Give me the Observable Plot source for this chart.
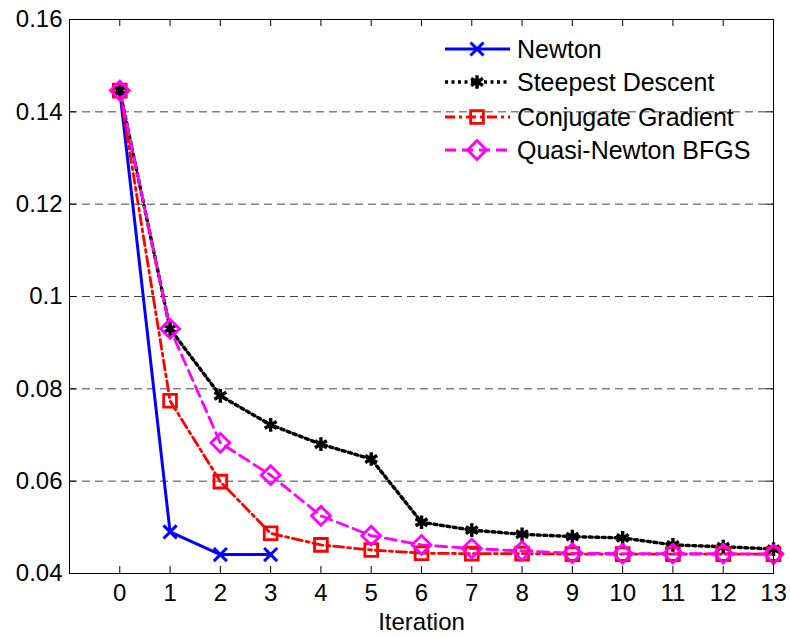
<!DOCTYPE html>
<html>
<head>
<meta charset="utf-8">
<script src="https://cdn.jsdelivr.net/npm/d3@7"></script>
<script src="https://cdn.jsdelivr.net/npm/@observablehq/plot@0.6"></script>
<style>
  html, body { margin: 0; padding: 0; background: #fff; }
  #chart { position: relative; width: 790px; height: 637px; }
  #chart svg { display: block; }
  #legend { position: absolute; left: 0; top: 0; pointer-events: none; }
</style>
</head>
<body>
<div id="chart"></div>
<script>
// ---- data ----
const seriesNames = ["Newton", "Steepest Descent", "Conjugate Gradient", "Quasi-Newton BFGS"];
const newtonIter = [0, 1, 2, 3];
const newtonVals = [0.1446, 0.0490, 0.0441, 0.0441];
const iter = [0, 1, 2, 3, 4, 5, 6, 7, 8, 9, 10, 11, 12, 13];
const steepestVals = [0.1446, 0.0930, 0.0785, 0.0722, 0.0680, 0.0648, 0.0511, 0.0494, 0.0485, 0.0480, 0.0477, 0.0462, 0.0458, 0.0453];
const conjugateVals = [0.1446, 0.0774, 0.0599, 0.0487, 0.0462, 0.0451, 0.0444, 0.0443, 0.0443, 0.0442, 0.0442, 0.0442, 0.0442, 0.0442];
const quasiVals = [0.1446, 0.0930, 0.0683, 0.0613, 0.0525, 0.0482, 0.0462, 0.0454, 0.0449, 0.0444, 0.0443, 0.0443, 0.0443, 0.0442];
const xTicks = [0, 1, 2, 3, 4, 5, 6, 7, 8, 9, 10, 11, 12, 13];
const yTicks = [0.04, 0.06, 0.08, 0.1, 0.12, 0.14, 0.16];
const yTickLabels = ["0.04", "0.06", "0.08", "0.1", "0.12", "0.14", "0.16"];
const gridTicks = [0.06, 0.08, 0.1, 0.12, 0.14];

// ---- styles ----
const styles = [
  {color: "#0000ff", dash: null, symbol: "times", r: 6, sw: 3},
  {color: "#000000", dash: "3,3.5", symbol: "asterisk", r: 6.5, sw: 3.4},
  {color: "#ff0000", dash: "10,4,3,4", symbol: "square", r: 7.2, sw: 2.8},
  {color: "#ff00ff", dash: "11,6", symbol: "diamond2", r: 8.5, sw: 2.8}
];

const table = (xs, ys) => xs.map((x, i) => ({x, y: ys[i]}));
const data = [
  table(newtonIter, newtonVals),
  table(iter, steepestVals),
  table(iter, conjugateVals),
  table(iter, quasiVals)
];

const W = 790, H = 637;
const mL = 69, mR = 17, mT = 19, mB = 64;
const plotW = W - mL - mR, plotH = H - mT - mB;
const FONT = "Liberation Sans, Arial, Helvetica, sans-serif";

const marks = [];
// grid
marks.push(Plot.ruleY(gridTicks, {y: d => d, stroke: "#444", strokeWidth: 1, strokeDasharray: "8,5"}));
// series
data.forEach((d, i) => {
  const s = styles[i];
  marks.push(Plot.line(d, {x: "x", y: "y", stroke: s.color, strokeWidth: s.sw, strokeDasharray: s.dash, strokeLinejoin: "round"}));
});
data.forEach((d, i) => {
  const s = styles[i];
  marks.push(Plot.dot(d, {x: "x", y: "y", symbol: () => s.symbol, r: s.r, stroke: s.color, strokeWidth: s.sw, fill: "none"}));
});
// ticks (inward, all four sides)
marks.push(Plot.tickX(xTicks, {x: d => d, stroke: "#000", strokeWidth: 1, insetTop: plotH - 7}));
marks.push(Plot.tickX(xTicks, {x: d => d, stroke: "#000", strokeWidth: 1, insetBottom: plotH - 7}));
marks.push(Plot.tickY(yTicks, {y: d => d, stroke: "#000", strokeWidth: 1, insetRight: plotW - 7}));
marks.push(Plot.tickY(yTicks, {y: d => d, stroke: "#000", strokeWidth: 1, insetLeft: plotW - 7}));
// axes labels
marks.push(Plot.axisX(xTicks, {tickSize: 0, tickPadding: 10, fontSize: 24, fill: "#000"}));
marks.push(Plot.axisY(yTicks, {tickSize: 0, tickPadding: 7, fontSize: 24, fill: "#000", tickFormat: (d) => yTickLabels[yTicks.indexOf(d)]}));
marks.push(Plot.text(["Iteration"], {text: d => d, frameAnchor: "bottom", lineAnchor: "middle", dy: 49, fontSize: 24, fill: "#000"}));
marks.push(Plot.frame({stroke: "#000", strokeWidth: 1}));

const chart = Plot.plot({
  width: W,
  height: H,
  marginLeft: mL, marginRight: mR, marginTop: mT, marginBottom: mB,
  style: {fontFamily: FONT, fontSize: "24px", background: "#fff", color: "#000"},
  x: {domain: [-1, 13], label: null, axis: null},
  y: {domain: [0.04, 0.16], label: null, axis: null},
  marks
});
const container = document.getElementById("chart");
container.appendChild(chart);

// ---- legend (overlay, inside the plot area top-right) ----
const legend = d3.select(container).append("svg")
  .attr("id", "legend").attr("width", W).attr("height", H);
const symMap = {times: d3.symbolTimes, asterisk: d3.symbolAsterisk, square: d3.symbolSquare, diamond2: d3.symbolDiamond2};
const rowY = [49, 82, 117, 150];
seriesNames.forEach((name, i) => {
  const s = styles[i];
  const g = legend.append("g").attr("transform", `translate(0,${rowY[i]})`);
  g.append("line").attr("x1", 445).attr("x2", 510).attr("y1", 0).attr("y2", 0)
    .attr("stroke", s.color).attr("stroke-width", s.sw)
    .attr("stroke-dasharray", s.dash);
  g.append("path").attr("transform", "translate(477,0)")
    .attr("d", d3.symbol(symMap[s.symbol], s.r * s.r * Math.PI)())
    .attr("fill", "none").attr("stroke", s.color).attr("stroke-width", s.sw);
  g.append("text").attr("x", 517).attr("y", 0).attr("dy", "0.37em")
    .attr("font-family", FONT).attr("font-size", 25).attr("fill", "#000")
    .text(name);
});
</script>
</body>
</html>
